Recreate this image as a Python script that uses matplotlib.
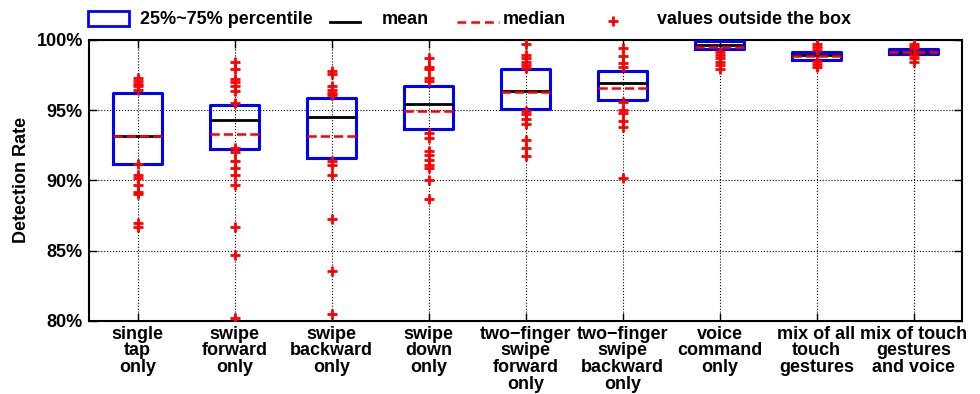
import matplotlib
matplotlib.use('Agg')
import matplotlib.pyplot as plt
from matplotlib.patches import Rectangle
from matplotlib.lines import Line2D

plt.rcParams['font.family'] = ['Liberation Sans', 'DejaVu Sans']
plt.rcParams['font.weight'] = 'bold'

# detection rate per input type (percent)
categories = ['single\ntap\nonly', 'swipe\nforward\nonly', 'swipe\nbackward\nonly',
              'swipe\ndown\nonly', 'two\u2212finger\nswipe\nforward\nonly',
              'two\u2212finger\nswipe\nbackward\nonly', 'voice\ncommand\nonly',
              'mix of all\ntouch\ngestures', 'mix of touch\ngestures\nand voice']
q3 = [96.24, 95.35, 95.84, 96.72, 97.91, 97.77, 99.95, 99.12, 99.33]
q1 = [91.18, 92.25, 91.59, 93.68, 95.08, 95.72, 99.35, 98.60, 99.00]
means = [93.13, 94.32, 94.49, 95.46, 96.34, 96.96, 99.64, 98.95, 99.17]
medians = [93.13, 93.30, 93.16, 94.96, 96.32, 96.60, 99.52, 98.86, 99.15]
outside = [
    [97.3, 97.1, 96.9, 96.7, 96.45, 91.2, 90.4, 90.15, 89.7, 89.15, 89.0, 86.95, 86.7],
    [98.4, 97.9, 97.2, 97.0, 96.7, 96.4, 95.5, 92.3, 92.0, 91.4, 90.9, 90.4, 89.7, 86.65, 84.65, 80.2],
    [97.8, 97.6, 96.7, 96.45, 96.2, 96.05, 91.35, 91.1, 90.35, 87.25, 83.55, 80.5],
    [98.75, 98.1, 97.9, 97.3, 97.05, 93.35, 93.05, 92.1, 91.8, 91.45, 91.1, 90.85, 90.0, 88.65],
    [99.75, 98.95, 98.7, 98.45, 98.2, 98.0, 94.95, 94.75, 94.35, 94.05, 92.9, 92.3, 91.75],
    [99.4, 98.85, 98.35, 98.05, 95.55, 95.0, 94.8, 94.2, 93.8, 90.2],
    [99.15, 98.9, 98.7, 98.45, 98.2, 97.95],
    [99.75, 99.5, 99.3, 98.5, 98.3, 98.05],
    [99.75, 99.55, 99.4, 98.9, 98.7, 98.45],
]
yticks = [80, 85, 90, 95, 100]
legend_labels = ['25%~75% percentile', 'mean', 'median', 'values outside the box']

stats = []
for i in range(len(categories)):
    stats.append({'q1': q1[i], 'q3': q3[i], 'med': medians[i], 'mean': means[i],
                  'whislo': q1[i], 'whishi': q3[i], 'fliers': outside[i]})

W, H = 980, 394
fig = plt.figure(figsize=(W / 100, H / 100), dpi=100)
ax = fig.add_axes([89 / W, 1 - 320.7 / H, 873 / W, 280.7 / H])

ax.bxp(stats, positions=range(1, len(categories) + 1), widths=0.5,
       showmeans=True, meanline=True, showcaps=False,
       boxprops=dict(color='blue', lw=2.2, zorder=3),
       whiskerprops=dict(visible=False),
       medianprops=dict(color='red', ls='--', lw=1.8, zorder=5),
       meanprops=dict(color='black', ls='-', lw=2.0, zorder=4),
       flierprops=dict(marker='+', markeredgecolor='red', markersize=7, mew=2, zorder=6))

ax.set_xlim(0.5, 9.5)
ax.set_ylim(80, 100)
ax.set_yticks(yticks)
ax.set_yticklabels([f'{v}%' for v in yticks])
ax.set_xticks(range(1, len(categories) + 1))
ax.set_xticklabels(categories, linespacing=0.98)
ax.tick_params(direction='in', top=True, right=True, length=6, width=1, labelsize=13)
ax.tick_params(axis='y', pad=4.5)
ax.grid(True, ls=':', color='black', lw=0.8)
for s in ax.spines.values():
    s.set_linewidth(1.5)
ax.set_ylabel('Detection Rate', fontsize=13, fontweight='bold')
ax.yaxis.set_label_coords(-0.068, 0.5)

# legend drawn by hand across the top, in pixel positions
def fx(px):
    return px / W

def fy(py):
    return 1 - py / H

fig.patches.append(Rectangle((fx(88), fy(26)), fx(129) - fx(88), fy(11) - fy(26),
                             transform=fig.transFigure, facecolor='white',
                             edgecolor='blue', lw=2))
fig.lines.append(Line2D([fx(330), fx(360)], [fy(22), fy(22)], transform=fig.transFigure,
                        color='black', lw=2))
fig.lines.append(Line2D([fx(457), fx(499)], [fy(22), fy(22)], transform=fig.transFigure,
                        color='red', lw=1.8, ls=(0, (3.5, 2))))
fig.lines.append(Line2D([fx(613)], [fy(21)], transform=fig.transFigure, color='red',
                        marker='+', ls='none', markersize=7, mew=2))
for x0, lab in zip([140, 382, 503, 657], legend_labels):
    fig.text(fx(x0), fy(20), lab, fontsize=13, fontweight='bold', ha='left', va='center')

fig.savefig('out.png', dpi=100)
